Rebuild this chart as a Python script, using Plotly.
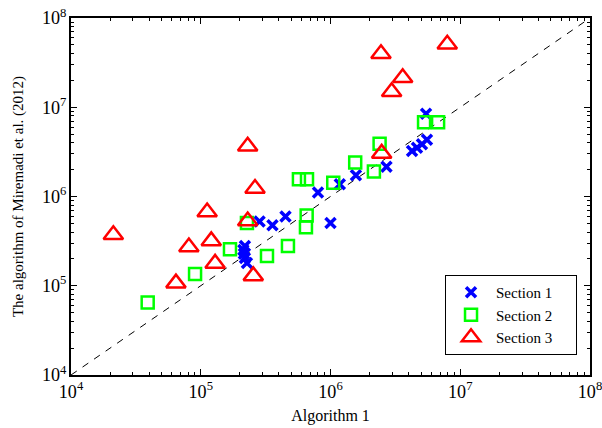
import plotly.graph_objects as go

# Section 1 (blue x)
s1_x = [2.19e5, 2.13e5, 2.15e5, 2.19e5, 2.27e5, 2.84e5, 3.57e5, 4.50e5, 8.01e5, 1.0e6,
        1.18e6, 1.57e6, 2.70e6, 4.25e6, 4.64e6, 5.07e6, 5.54e6, 5.45e6]
s1_y = [2.79e5, 2.52e5, 2.28e5, 2.05e5, 1.80e5, 5.26e5, 4.76e5, 5.98e5, 1.11e6, 5.06e5,
        1.37e6, 1.73e6, 2.16e6, 3.24e6, 3.51e6, 3.84e6, 4.32e6, 8.44e6]

# Section 2 (green squares)
s2_x = [3.90e4, 9.04e4, 1.68e5, 2.27e5, 3.24e5, 4.70e5, 6.47e5, 6.55e5, 5.71e5, 6.59e5,
        1.05e6, 1.55e6, 2.16e6, 2.39e6, 5.26e6, 6.75e6]
s2_y = [6.5e4, 1.35e5, 2.57e5, 5.06e5, 2.16e5, 2.79e5, 4.53e5, 6.14e5, 1.56e6, 1.56e6,
        1.43e6, 2.40e6, 1.90e6, 3.89e6, 6.78e6, 6.78e6]

# Section 3 (red triangles)
s3_x = [2.12e4, 6.44e4, 8.1e4, 1.12e5, 1.205e5, 1.29e5, 2.30e5, 2.62e5, 2.54e5, 2.30e5,
        2.45e6, 7.94e6, 3.6e6, 2.96e6, 2.48e6]
s3_y = [3.72e5, 1.07e5, 2.72e5, 6.7e5, 3.18e5, 1.78e5, 5.32e5, 1.23e6, 1.29e5, 3.65e6,
        3.97e7, 5.07e7, 2.14e7, 1.49e7, 3.04e6]

ref_line = [1e4, 1e8]
legend_names = ["Section 1", "Section 2", "Section 3"]

FONT = "Liberation Serif, Times New Roman, serif"
PAD = "\u00a0" * 5

fig = go.Figure()
fig.add_trace(go.Scatter(x=ref_line, y=ref_line, mode="lines",
                         line=dict(color="black", width=1, dash="7px,7px"),
                         showlegend=False, hoverinfo="skip"))
fig.add_trace(go.Scatter(x=s1_x, y=s1_y, mode="markers", name=legend_names[0] + PAD,
                         marker=dict(symbol="x-thin", size=10,
                                     line=dict(color="#0000FF", width=3.5), color="#0000FF")))
fig.add_trace(go.Scatter(x=s2_x, y=s2_y, mode="markers", name=legend_names[1] + PAD,
                         marker=dict(symbol="square-open", size=12, color="#00FF00",
                                     line=dict(color="#00FF00", width=2.5))))
fig.add_trace(go.Scatter(x=s3_x, y=s3_y, mode="markers", name=legend_names[2] + PAD,
                         marker=dict(symbol="triangle-up-open", size=17, color="#FF0000",
                                     line=dict(color="#FF0000", width=2.5))))

axis_common = dict(
    type="log", range=[4, 8], tick0=0, dtick=1, exponentformat="power", showexponent="all",
    showgrid=False, zeroline=False, showline=True, linecolor="black", linewidth=1.5,
    mirror="allticks", ticks="inside", ticklen=6, tickwidth=1, tickcolor="black",
    tickfont=dict(family=FONT, size=14.5, color="black"), automargin=False,
    ticklabeloverflow="allow",
    minor=dict(ticks="inside", ticklen=3, tickwidth=1, tickcolor="black", dtick="D1", showgrid=False),
)

fig.update_layout(
    width=602, height=428,
    margin=dict(l=71, r=12, t=18, b=53),
    paper_bgcolor="white", plot_bgcolor="white",
    font=dict(family=FONT, size=15, color="black"),
    xaxis=dict(**axis_common, title=dict(text="Algorithm 1", font=dict(family=FONT, size=16), standoff=9)),
    yaxis=dict(**axis_common, title=dict(text="The algorithm of Miremadi et al. (2012)",
                                         font=dict(family=FONT, size=15), standoff=15)),
    legend=dict(x=0.975, y=0.056, xanchor="right", yanchor="bottom",
                bordercolor="black", borderwidth=1, bgcolor="white",
                font=dict(family=FONT, size=15), tracegroupgap=0, itemwidth=40),
    showlegend=True,
)

fig.write_html("out.html", config={"displayModeBar": False},
               post_script="document.body.style.margin='0px';")
